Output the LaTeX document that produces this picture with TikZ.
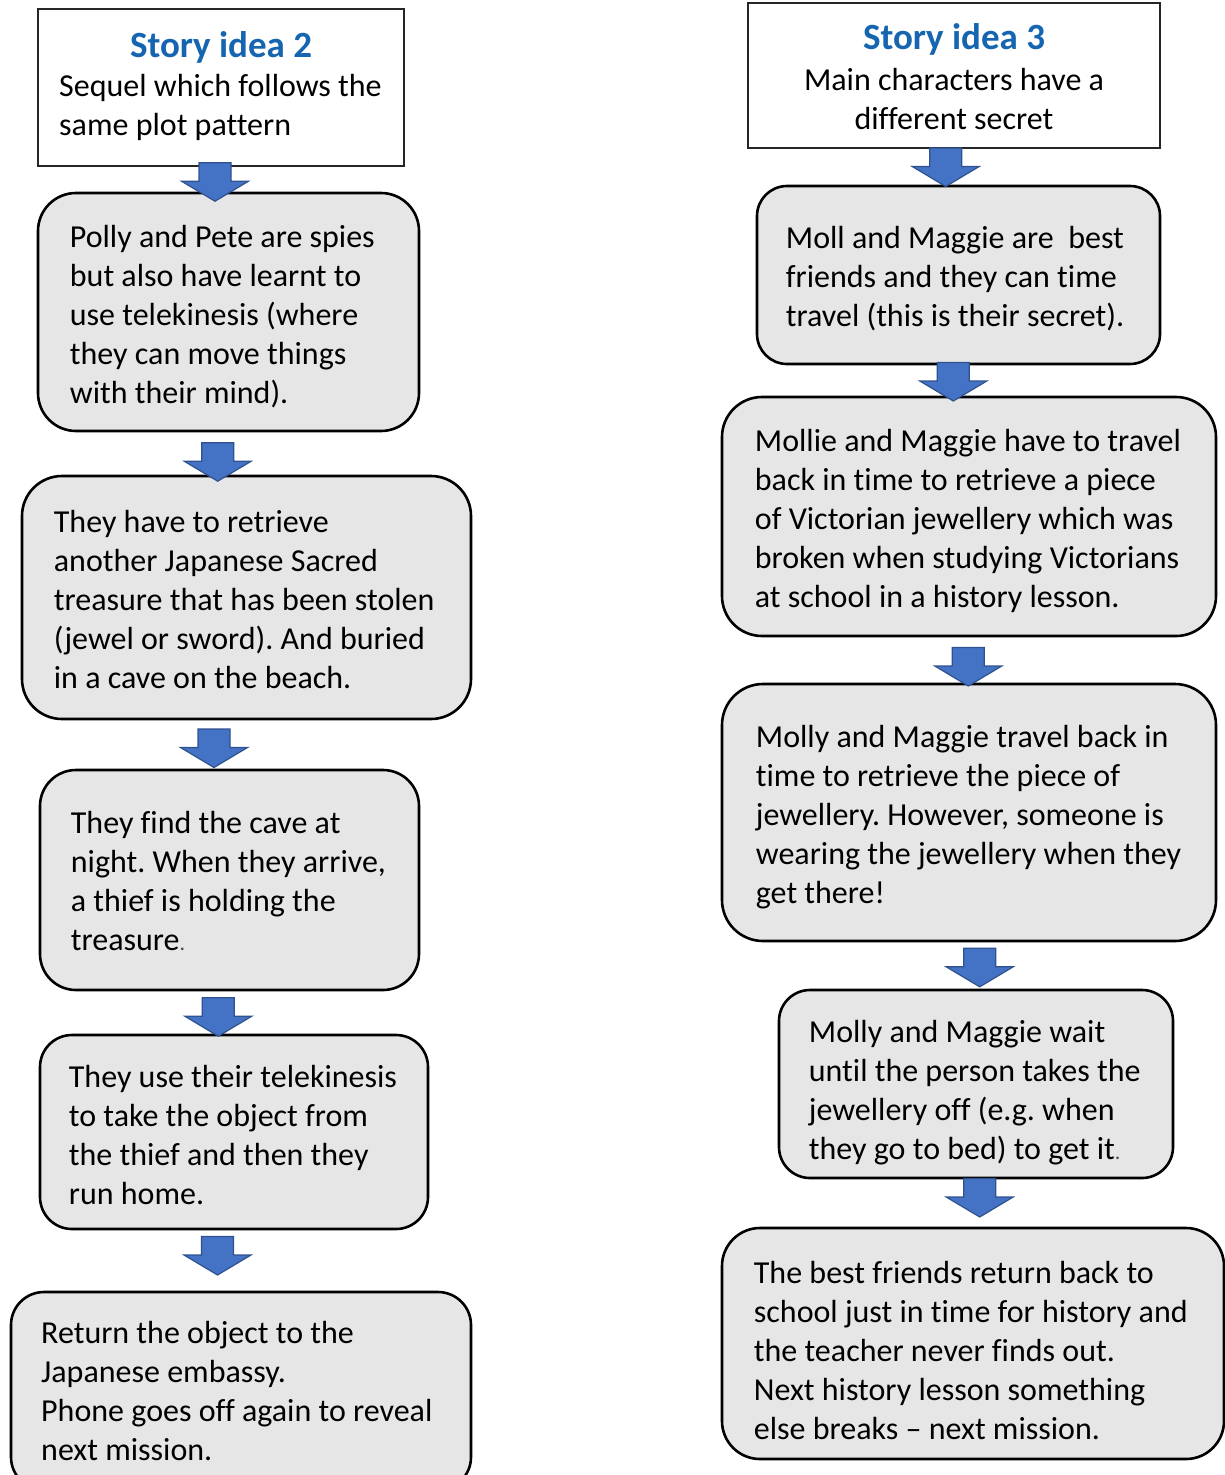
\documentclass[tikz,border=0pt]{standalone}
\usepackage{fontspec}
\setmainfont{Carlito}[Ligatures={TeX,NoCommon}]
\frenchspacing
\definecolor{boxgray}{HTML}{E7E6E6}
\definecolor{arrowblue}{HTML}{4472C4}
\definecolor{arrowedge}{HTML}{2F528F}
\definecolor{titleblue}{HTML}{1565B0}
\begin{document}
\begin{tikzpicture}[x=1pt,y=-1pt,
  rbox/.style={draw=black, line width=2.6pt, fill=boxgray, inner sep=0pt},
  tbox/.style={draw=black!85, line width=1.2pt, fill=white, inner sep=0pt},
  body/.style={inner sep=0pt, align=left, font=\fontsize{32}{39}\selectfont},
  cbody/.style={inner sep=0pt, align=center, font=\fontsize{32}{39}\selectfont},
  titletext/.style={inner sep=0pt, font=\fontsize{37}{44}\selectfont\bfseries, text=titleblue},
  barrow/.pic={\filldraw[fill=arrowblue, draw=arrowedge, line width=1.2pt, line join=miter]
     (-16,0) -- (16,0) -- (16,18.5) -- (33.5,18.5) -- (0,38.5) -- (-33.5,18.5) -- (-16,18.5) -- cycle;}
]
\useasboundingbox (0,0) rectangle (1225,1475);
\clip (0,0) rectangle (1225,1475);

% ---------- left column ----------
\node[tbox, minimum width=366pt, minimum height=157pt] (t2) at (221,87.5) {};
\node[titletext, anchor=base] (t2h) at (221,57) {Story idea 2};
\node[body, anchor=base west] (t2b) at (59,135) {Sequel which follows the\\same plot pattern};

\node[rbox, minimum width=381pt, minimum height=238pt, rounded corners=38pt] (l1) at (228.5,312) {};
\node[body, anchor=west] (l1t) at ([xshift=33pt,yshift=-5pt]l1.west) {Polly and Pete are spies\\but also have learnt to\\use telekinesis (where\\they can move things\\with their mind).};

\node[rbox, minimum width=449pt, minimum height=243pt, rounded corners=40pt] (l2) at (246.5,597.5) {};
\node[body, anchor=west] (l2t) at ([xshift=33pt,yshift=-2pt]l2.west) {They have to retrieve\\another Japanese Sacred\\treasure that has been stolen\\(jewel or sword). And buried\\in a cave on the beach.};

\node[rbox, minimum width=379pt, minimum height=220pt, rounded corners=36pt] (l3) at (229.5,880) {};
\node[body, anchor=west] (l3t) at ([xshift=32pt,yshift=-1pt]l3.west) {They find the cave at\\night. When they arrive,\\a thief is holding the\\treasure{\fontsize{22}{22}\selectfont\color{black!70}.}};

\node[rbox, minimum width=388pt, minimum height=194pt, rounded corners=32pt] (l4) at (234,1132) {};
\node[body, anchor=west] (l4t) at ([xshift=30pt,yshift=-3pt]l4.west) {They use their telekinesis\\to take the object from\\the thief and then they\\run home.};

\node[rbox, minimum width=460pt, minimum height=198pt, rounded corners=33pt] (l5) at (241,1391) {};
\node[body, anchor=base west] (l5t) at (41,1460) {Return the object to the\\Japanese embassy.\\Phone goes off again to reveal\\next mission.};

% ---------- right column ----------
\node[tbox, minimum width=412pt, minimum height=145pt] (t3) at (954,75.5) {};
\node[titletext, anchor=base] (t3h) at (954,49.5) {Story idea 3};
\node[cbody, anchor=base] (t3b) at (954,129) {Main characters have a\\different secret};

\node[rbox, minimum width=403pt, minimum height=178pt, rounded corners=30pt] (r1) at (958.5,275) {};
\node[body, anchor=west] (r1t) at ([xshift=30pt,yshift=-4pt]r1.west) {Moll and Maggie are\ \ best\\friends and they can time\\travel (this is their secret).};

\node[rbox, minimum width=494pt, minimum height=239pt, rounded corners=40pt] (r2) at (969,516.5) {};
\node[body, anchor=west] (r2t) at ([xshift=34pt,yshift=-4pt]r2.west) {Mollie and Maggie have to travel\\back in time to retrieve a piece\\of Victorian jewellery which was\\broken when studying Victorians\\at school in a history lesson.};

\node[rbox, minimum width=494pt, minimum height=257pt, rounded corners=41pt] (r3) at (969,812.5) {};
\node[body, anchor=west] (r3t) at ([xshift=35pt,yshift=-5pt]r3.west) {Molly and Maggie travel back in\\time to retrieve the piece of\\jewellery. However, someone is\\wearing the jewellery when they\\get there!};

\node[rbox, minimum width=394pt, minimum height=188pt, rounded corners=31pt] (r4) at (976,1084) {};
\node[body, anchor=west] (r4t) at ([xshift=31pt,yshift=-9pt]r4.west) {Molly and Maggie wait\\until the person takes the\\jewellery off (e.g. when\\they go to bed) to get it{\fontsize{22}{22}\selectfont\color{black!70}.}};

\node[rbox, minimum width=502pt, minimum height=231pt, rounded corners=38pt] (r5) at (973,1343.5) {};
\node[body, anchor=west] (r5t) at ([xshift=33pt,yshift=-7pt]r5.west) {The best friends return back to\\school just in time for history and\\the teacher never finds out.\\Next history lesson something\\else breaks – next mission.};

% ---------- block arrows ----------
\pic at (215,162.7) {barrow};
\pic at (217.7,442.7) {barrow};
\pic at (214,729) {barrow};
\pic at (218.3,997.7) {barrow};
\pic at (217.5,1236.5) {barrow};
\pic at (945.7,148) {barrow};
\pic at (953.3,362.5) {barrow};
\pic at (968.3,647.5) {barrow};
\pic at (979.7,948.3) {barrow};
\pic at (979.7,1178.5) {barrow};
\end{tikzpicture}
\end{document}
